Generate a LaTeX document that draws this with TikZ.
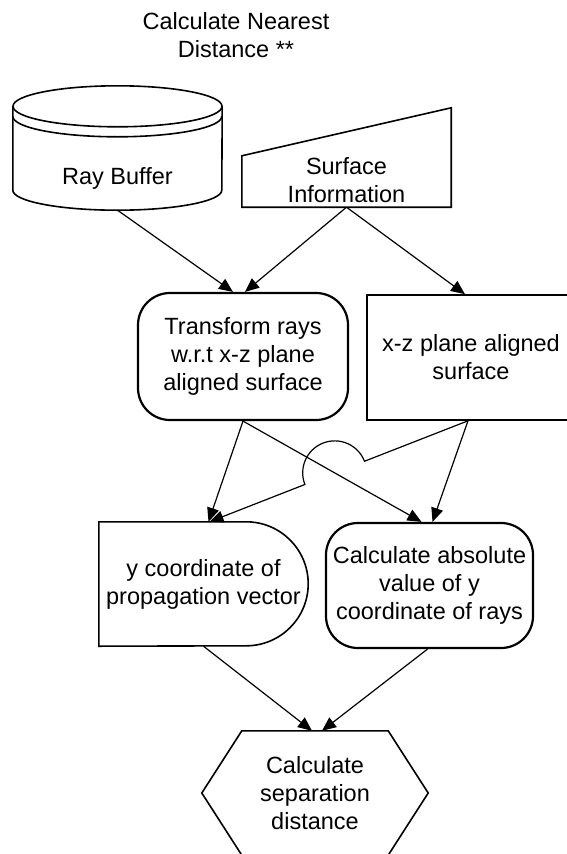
\documentclass[tikz,border=0pt]{standalone}
\usepackage{fontspec}
\setmainfont{Liberation Sans}
\usetikzlibrary{arrows.meta,calc,intersections}

\begin{document}
\begin{tikzpicture}[
    x=1pt, y=1pt,
    font=\fontsize{23.5}{28}\selectfont,
    outline/.style={line width=1.6pt},
    rbox/.style={
      draw,
      line width=2.2pt,
      rounded corners=32pt,
      align=center,
      inner sep=0pt
    },
    sbox/.style={
      draw,
      line width=1.6pt,
      align=center,
      inner sep=0pt
    },
    plain/.style={
      align=center,
      inner sep=0pt
    },
    conn/.style={
      -{Triangle[length=14pt,width=12pt]},
      line width=1.2pt
    }
  ]

    \useasboundingbox (0,0) rectangle (567,-854);

    \node (title) at (236,-35.5) [plain] {Calculate Nearest\\Distance **};

    % stored data and manual input
    \node (rb) at (117.5,-148) [plain,minimum width=209,minimum height=124,
      label={[yshift=-30pt]center:Ray Buffer}] {};
    \node (si) at (346.5,-157.5) [plain,minimum width=209,minimum height=99,
      label={[yshift=-22.5pt,align=center]center:Surface\\Information}] {};

    \draw[outline] ([yshift=-20.5]rb.north) ellipse [x radius=104.5, y radius=20.5];
    \draw[outline] ([yshift=-30.5]rb.north west) arc [start angle=180, end angle=360, x radius=104.5, y radius=20.5];
    \draw[outline] ([yshift=-20.5]rb.north west) -- ([yshift=20]rb.south west)
      arc [start angle=180, end angle=360, x radius=104.5, y radius=20]
      -- ([yshift=-20.5]rb.north east);
    \draw[outline] (si.south west) -- ([yshift=-48]si.north west) -- (si.north east)
      -- (si.south east) -- cycle;

    % processes
    \node (tr) at (243,-356.5) [rbox,minimum width=210,minimum height=127] {Transform rays\\w.r.t x-z plane\\aligned surface};
    \node (xz) at (471,-357.5) [sbox,minimum width=208,minimum height=125] {x-z plane aligned\\surface};
    \node (yc) at (203.5,-584) [plain,minimum width=209,minimum height=124] {y coordinate of\\propagation vector};
    \node (ca) at (429.5,-585.5) [rbox,minimum width=207,minimum height=125] {Calculate absolute\\value of y\\coordinate of rays};
    \node (sd) at (315,-793) [plain,minimum width=226,minimum height=124] {Calculate\\separation\\distance};

    \draw[outline] (yc.north west) -- ([xshift=-62]yc.north east)
      arc [start angle=90, end angle=-90, radius=62] -- (yc.south west) -- cycle;
    \draw[outline] (sd.west) -- ([xshift=40]sd.north west) -- ([xshift=-40]sd.north east)
      -- (sd.east) -- ([xshift=-40]sd.south east) -- ([xshift=40]sd.south west) -- cycle;

    % connectors
    \draw[conn] (rb.south) -- ([xshift=-10]tr.north);
    \draw[conn] (si.south) -- ([xshift=2]tr.north);
    \draw[conn] (si.south) -- ([xshift=-6]xz.north);

    \draw[conn] (tr.south) -- ([xshift=5]yc.north);
    \draw[conn, name path=trca] (tr.south) -- ([xshift=-8]ca.north);
    \draw[conn] ([xshift=-3]xz.south) -- ([xshift=3]ca.north);

    \path[name path=xzyc] ([xshift=-3]xz.south) -- ([xshift=6]yc.north);
    \path[name intersections={of=trca and xzyc, by=hop}];
    \draw[conn] ([xshift=-3]xz.south) -- ($(hop)!32pt!([xshift=-3]xz.south)$)
      arc [start angle=21.3, end angle=201.3, radius=32pt] -- ([xshift=6]yc.north);

    \draw[conn] (yc.south) -- ([xshift=-3]sd.north);
    \draw[conn] ([xshift=-2]ca.south) -- ([xshift=7]sd.north);

\end{tikzpicture}
\end{document}
